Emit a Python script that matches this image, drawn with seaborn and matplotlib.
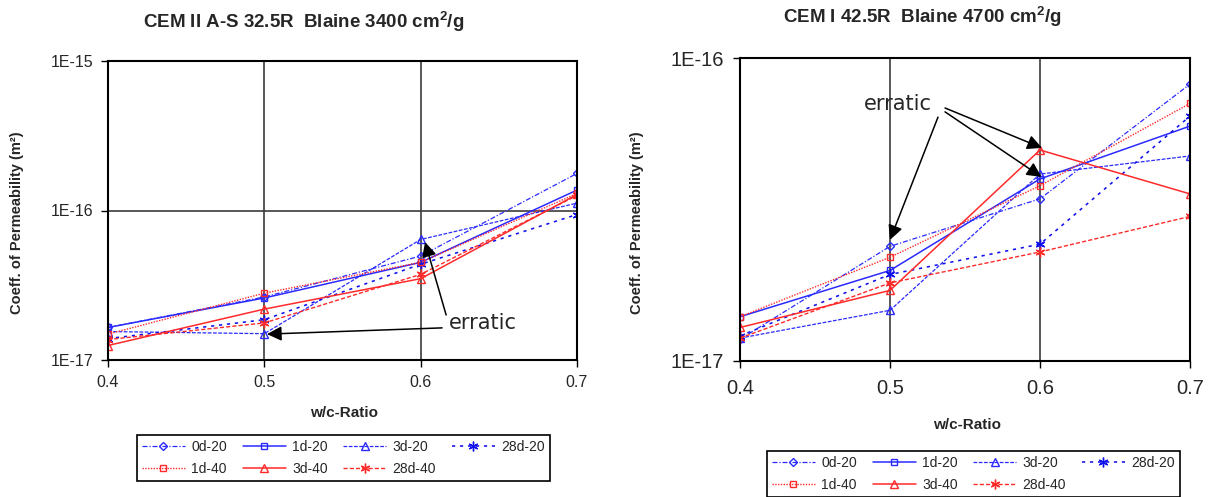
import matplotlib
matplotlib.use("Agg")
import matplotlib.pyplot as plt
import matplotlib.ticker as mticker
import pandas as pd
import seaborn as sns

sns.set_theme(style="white")
plt.rcParams["font.family"] = ["Liberation Sans", "DejaVu Sans"]
plt.rcParams["mathtext.fontset"] = "custom"
plt.rcParams["mathtext.rm"] = "Liberation Sans"
plt.rcParams["mathtext.bf"] = "Liberation Sans:bold"

wc = [0.4, 0.5, 0.6, 0.7]
wc_labels = ["0.4", "0.5", "0.6", "0.7"]
series = ["0d-20", "1d-20", "3d-20", "28d-20", "1d-40", "3d-40", "28d-40"]

# CEM II A-S 32.5R, Blaine 3400 cm2/g
cem2 = {
    "0d-20":  [1.65e-17, 2.64e-17, 4.96e-17, 1.77e-16],
    "1d-20":  [1.65e-17, 2.60e-17, 4.50e-17, 1.37e-16],
    "3d-20":  [1.55e-17, 1.50e-17, 6.40e-17, 1.12e-16],
    "28d-20": [1.39e-17, 1.86e-17, 4.37e-17, 9.40e-17],
    "1d-40":  [1.49e-17, 2.80e-17, 4.50e-17, 1.30e-16],
    "3d-40":  [1.25e-17, 2.19e-17, 3.50e-17, 1.28e-16],
    "28d-40": [1.37e-17, 1.77e-17, 3.74e-17, 1.26e-16],
}

# CEM I 42.5R, Blaine 4700 cm2/g
cem1 = {
    "0d-20":  [1.18e-17, 2.39e-17, 3.43e-17, 8.20e-17],
    "1d-20":  [1.40e-17, 1.99e-17, 3.99e-17, 5.96e-17],
    "3d-20":  [1.19e-17, 1.47e-17, 4.14e-17, 4.75e-17],
    "28d-20": [1.21e-17, 1.93e-17, 2.43e-17, 6.43e-17],
    "1d-40":  [1.40e-17, 2.20e-17, 3.79e-17, 7.08e-17],
    "3d-40":  [1.29e-17, 1.71e-17, 4.97e-17, 3.56e-17],
    "28d-40": [1.19e-17, 1.81e-17, 2.29e-17, 3.00e-17],
}

blue = "#2a2aff"
red = "#ff2a2a"
asterisk = (6, 2, 0)
styles = {
    "0d-20":  dict(color=blue, linestyle=(0, (4, 1.5, 1, 1.5)), marker="D", ms=4, lw=0.9),
    "1d-20":  dict(color=blue, linestyle="-", marker="s", ms=5, lw=1.1),
    "3d-20":  dict(color=blue, linestyle=(0, (3, 1.2)), marker="^", ms=5.5, lw=0.9),
    "28d-20": dict(color="#1010ee", linestyle=(0, (2, 3)), marker=asterisk, ms=7, lw=1.15),
    "1d-40":  dict(color=red, linestyle=(0, (1, 1)), marker="s", ms=5, lw=1.0),
    "3d-40":  dict(color=red, linestyle="-", marker="^", ms=6, lw=1.1),
    "28d-40": dict(color=red, linestyle=(0, (3, 1.5)), marker=asterisk, ms=7, lw=1.0),
}

W, H = 1212, 497
fig = plt.figure(figsize=(W / 100, H / 100), dpi=100)


def px_axes(x0, y0, x1, y1):
    return fig.add_axes([x0 / W, 1 - y1 / H, (x1 - x0) / W, (y1 - y0) / H])


ax1 = px_axes(108, 61, 577, 360)
ax2 = px_axes(740, 58, 1190, 361)


def draw(ax, data, ylim, ytick_vals, ytick_labels, hgrid, tick_fs, xpad, ypad):
    handles = {}
    for name in series:
        df = pd.DataFrame({"wc": wc, "k": data[name]})
        st = styles[name]
        sns.lineplot(data=df, x="wc", y="k", ax=ax, color=st["color"],
                     linestyle=st["linestyle"], lw=st["lw"], marker=st["marker"],
                     markersize=st["ms"], markerfacecolor="none",
                     markeredgecolor=st["color"], markeredgewidth=1.0,
                     estimator=None, sort=False, label=name, legend=False)
        handles[name] = ax.lines[-1]
    ax.set_yscale("log")
    ax.set_xlim(0.4, 0.7)
    ax.set_ylim(*ylim)
    ax.set_xticks(wc)
    ax.set_xticklabels(wc_labels, fontsize=tick_fs)
    ax.set_yticks(ytick_vals)
    ax.set_yticklabels(ytick_labels, fontsize=tick_fs)
    ax.yaxis.set_minor_locator(mticker.NullLocator())
    ax.tick_params(axis="both", direction="out", length=5, width=1,
                   color="black", bottom=True, left=True)
    ax.tick_params(axis="x", pad=xpad)
    ax.tick_params(axis="y", pad=ypad)
    for x in [0.5, 0.6]:
        ax.axvline(x, color="#3c3c3c", lw=1.2, zorder=0)
    for y in hgrid:
        ax.axhline(y, color="#3c3c3c", lw=1.2, zorder=0)
    for sp in ax.spines.values():
        sp.set_color("black")
        sp.set_linewidth(1.5)
    ax.set_xlabel("w/c-Ratio", fontsize=11, fontweight="bold")
    ax.set_ylabel("Coeff. of Permeability (m\u00b2)", fontsize=10.5,
                  fontweight="bold")
    return handles


h1 = draw(ax1, cem2, (1e-17, 1e-15), [1e-17, 1e-16, 1e-15],
          ["1E-17", "1E-16", "1E-15"], [1e-16], 11.5, 6, 5.5)
h2 = draw(ax2, cem1, (1e-17, 1e-16), [1e-17, 1e-16],
          ["1E-17", "1E-16"], [], 14.5, 8, 6.5)

ax1.xaxis.set_label_coords(0.503, -0.154)
ax2.xaxis.set_label_coords(0.504, -0.188)
ax1.yaxis.set_label_coords(-0.179, 0.458)
ax2.yaxis.set_label_coords(-0.213, 0.455)

fig.text(304 / W, 1 - 22 / H, "CEM II A-S 32.5R  Blaine 3400 cm$^{\\mathbf{2}}$/g",
         fontsize=13.5, fontweight="bold", ha="center", va="center")
fig.text(922 / W, 1 - 17 / H, "CEM I 42.5R  Blaine 4700 cm$^{\\mathbf{2}}$/g",
         fontsize=13.5, fontweight="bold", ha="center", va="center")

# "erratic" call-outs
arrow = dict(arrowstyle="-|>", color="black", lw=1.1, mutation_scale=22,
             shrinkA=0, shrinkB=0)
ax1.text(0.6182, 1.77e-17, "erratic", fontsize=15, family="DejaVu Sans",
         ha="left", va="center")
ax1.annotate("", xy=(0.5017, 1.49e-17), xytext=(0.6137, 1.64e-17),
             arrowprops=arrow)
ax1.annotate("", xy=(0.6028, 6.15e-17), xytext=(0.6163, 2.0e-17),
             arrowprops=arrow)

ax2.text(0.5053, 7.05e-17, "erratic", fontsize=15, family="DejaVu Sans",
         ha="center", va="center")
ax2.annotate("", xy=(0.5, 2.51e-17), xytext=(0.532, 6.38e-17),
             arrowprops=arrow)
ax2.annotate("", xy=(0.6013, 5.05e-17), xytext=(0.5367, 6.84e-17),
             arrowprops=arrow)
ax2.annotate("", xy=(0.601, 4.05e-17), xytext=(0.5367, 6.64e-17),
             arrowprops=arrow)

# legends: entries arranged row by row (4 columns)
order = ["0d-20", "1d-40", "1d-20", "3d-40", "3d-20", "28d-40", "28d-20"]
leg_kw = dict(ncol=4, frameon=True, fancybox=False, edgecolor="black",
              framealpha=1, handlelength=3.1, columnspacing=1.13,
              handletextpad=0.45, borderpad=0.35, labelspacing=0.6,
              borderaxespad=0, prop={"family": "Liberation Sans", "size": 10})
l1 = fig.legend([h1[n] for n in order], order, loc="upper left",
                bbox_to_anchor=(137 / W, 1 - 435 / H), **leg_kw)
l2 = fig.legend([h2[n] for n in order], order, loc="upper left",
                bbox_to_anchor=(767 / W, 1 - 451 / H), **leg_kw)
for l in (l1, l2):
    l.get_frame().set_linewidth(1.2)

fig.savefig("out.png", dpi=100)
